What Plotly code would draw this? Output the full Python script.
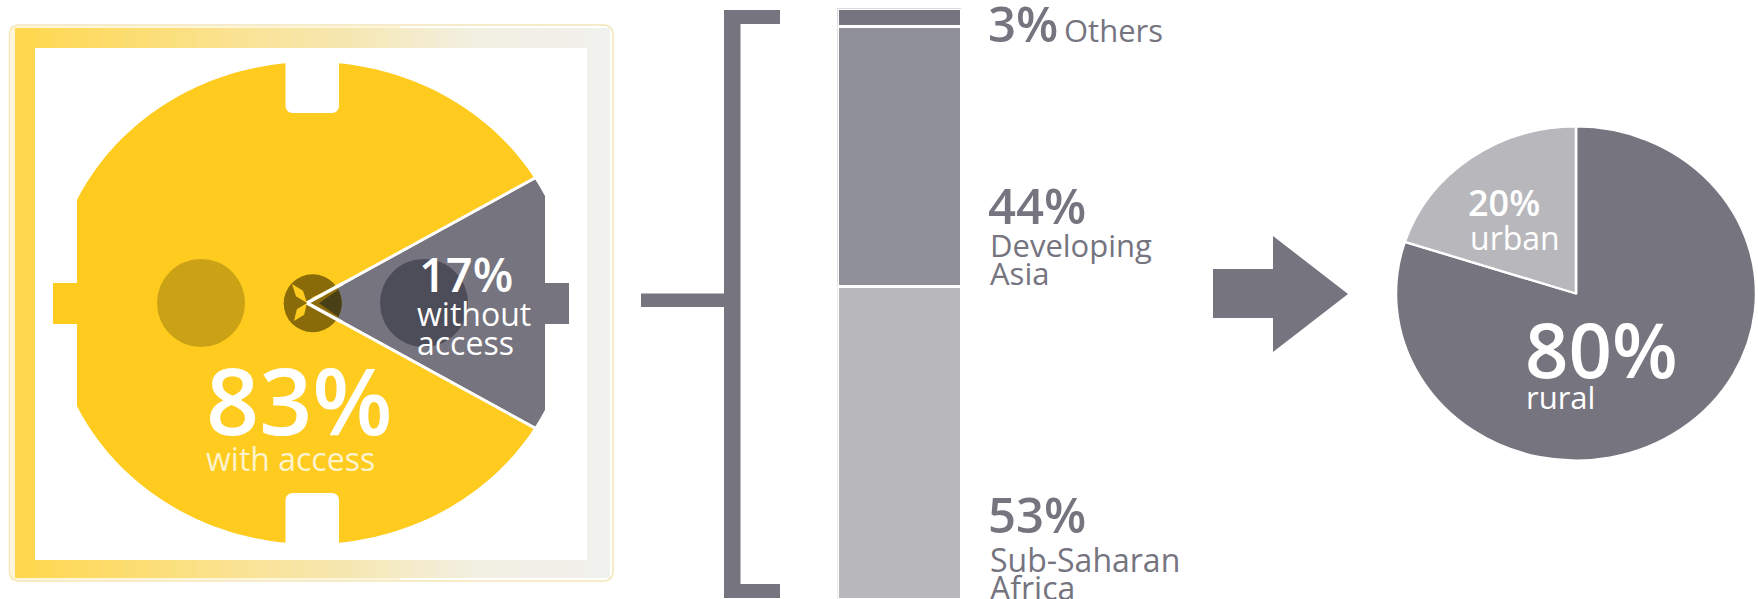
import numpy as np
import plotly.graph_objects as go

# ---- data
access_labels = ["without access", "with access"]
access_values = [17, 83]
region_labels = ["Sub-Saharan Africa", "Developing Asia", "Others"]
region_values = [53, 44, 3]
area_labels = ["rural", "urban"]
area_values = [80, 20]

W, H = 1758, 599
YEL = "#FECB1E"
GRY = "#75747F"
FONT = "Open Sans"
SQUASH = 0.928  # the reference is slightly flattened vertically


def X(p):
    return p / W


def Y(p):
    return 1 - p / H


def P(x, y):
    return f"{X(x):.5f},{Y(y):.5f}"


def path(pts, close=True):
    s = "M" + " L".join(P(a, b) for a, b in pts)
    return s + (" Z" if close else "")


shapes = []


def add_rect(x0, y0, x1, y1, color):
    shapes.append(dict(type="rect", xref="paper", yref="paper", x0=X(x0), x1=X(x1), y0=Y(y0), y1=Y(y1),
                       fillcolor=color, line_width=0, layer="above"))


def add_path(pts, color):
    shapes.append(dict(type="path", xref="paper", yref="paper", path=path(pts), fillcolor=color, line_width=0,
                       layer="above"))


def add_circle(cx, cy, r, color):
    shapes.append(dict(type="circle", xref="paper", yref="paper", x0=X(cx - r), x1=X(cx + r), y0=Y(cy - r),
                       y1=Y(cy + r), fillcolor=color, line_width=0, layer="above"))


def corner(cx_, cy_, r_, a0, a1):
    return [(cx_ + r_ * np.cos(np.radians(t)), cy_ + r_ * np.sin(np.radians(t))) for t in np.linspace(a0, a1, 7)]


# plug outline: flattened ellipse with chords and notches; everything outside is masked white
cx, cy, a, b = 312, 303, 260, 241


def arc(x0, sy0, x1, sy1):
    t0 = np.arctan2(sy0 * np.sqrt(max(1 - ((x0 - cx) / a) ** 2, 0)), (x0 - cx) / a)
    t1 = np.arctan2(sy1 * np.sqrt(max(1 - ((x1 - cx) / a) ** 2, 0)), (x1 - cx) / a)
    ts = np.linspace(t0, t1, 50)
    return [(cx + a * np.cos(t), cy + b * np.sin(t)) for t in ts]


nl, nr, ntop, nbot = 285.5, 339, 113, 493
chl, chr_ = 77, 545
r = 7
outline = []
outline += arc(nr, -1, chr_, -1)
outline += arc(chr_, 1, nr, 1)
outline += corner(nr - r, nbot + r, r, 0, -90) + corner(nl + r, nbot + r, r, -90, -180)
outline += arc(nl, 1, chl, 1)
outline += arc(chl, -1, nl, -1)
outline += corner(nl + r, ntop - r, r, 180, 90) + corner(nr - r, ntop - r, r, 90, 0)
mask = "M" + P(30, 44) + " L" + P(590, 44) + " L" + P(590, 564) + " L" + P(30, 564) + " Z " + path(outline)
shapes.append(dict(type="path", xref="paper", yref="paper", path=mask, fillcolor="white", line_width=0,
                   layer="above", fillrule="evenodd"))

# frame with fading colour
stops = [(15, (255, 216, 79)), (170, (252, 224, 128)), (340, (246, 232, 178)), (470, (243, 240, 226)), (610, (241, 241, 238))]
xs = [s[0] for s in stops]


def frame_col(x):
    c = [np.interp(x, xs, [s[1][i] for s in stops]) for i in range(3)]
    return "rgb(%d,%d,%d)" % tuple(c)


step = 12
for x0 in range(15, 610, step):
    x1 = min(x0 + step + 0.5, 610)
    add_rect(x0, 28, x1, 48, frame_col(x0))
    add_rect(x0, 560, x1, 578, frame_col(x0))
add_rect(15, 28, 35, 578, frame_col(15))
add_rect(587, 28, 610, 578, frame_col(610))
# cream gap between line and band
add_rect(10.5, 26, 15, 580, "#FFF6DA")
add_rect(15, 26, 400, 28, "#FFF6DA")
add_rect(15, 578, 400, 580, "#FFF6DA")
fx0, fy0, fx1, fy1, fr = 9.5, 25, 613, 581, 9
shapes.append(dict(type="path", xref="paper", yref="paper",
                   path=path(corner(fx0 + fr, fy0 + fr, fr, 180, 270) + corner(fx1 - fr, fy0 + fr, fr, 270, 360)
                             + corner(fx1 - fr, fy1 - fr, fr, 0, 90) + corner(fx0 + fr, fy1 - fr, fr, 90, 180)),
                   fillcolor="rgba(0,0,0,0)", line=dict(color="#F5E6B8", width=1.5), layer="above"))

# plug tabs
add_rect(53, 283, 77.5, 324, YEL)
add_rect(544.5, 283, 569, 324, GRY)
# socket holes
add_circle(201, 303, 44, "#CBA216")
add_circle(424, 303, 44, "#4D4D59")
# centre pin
ox, oy, rr = 312.7, 303.3, 29
add_circle(ox, oy, rr, "#8A6B09")
ang = np.arctan(np.tan(np.radians(30.6)) * SQUASH)
apex = (307, 303)
th = np.linspace(-ang * 0.97, ang * 0.97, 20)
add_path([(319, oy)] + [(ox + rr * np.cos(t), oy + rr * np.sin(t)) for t in th], "#4A4018")
for tip, w in [((292, 284), 4.5), ((294, 321), 4.5)]:
    mx, my = (tip[0] + apex[0]) / 2, (tip[1] + apex[1]) / 2
    dx, dy = tip[0] - apex[0], tip[1] - apex[1]
    n = np.hypot(dx, dy)
    add_path([apex, (mx - dy / n * w, my + dx / n * w), tip, (mx + dy / n * w, my - dx / n * w)], YEL)
add_path([(311, 298), (322, 297), (335, 287)], YEL)
for s in (-1, 1):
    end = (apex[0] + 40 * np.cos(ang), apex[1] + s * 40 * np.sin(ang))
    shapes.append(dict(type="line", xref="paper", yref="paper", x0=X(apex[0]), y0=Y(apex[1]), x1=X(end[0]),
                       y1=Y(end[1]), line=dict(color="white", width=3.5), layer="above"))

# bracket
add_rect(724, 10, 740.5, 598, GRY)
add_rect(724, 10, 780, 24, GRY)
add_rect(724, 584, 780, 598, GRY)
add_rect(641, 293.5, 724, 307, GRY)
# arrow
add_path([(1213, 269), (1273, 269), (1273, 236), (1348, 294), (1273, 352), (1273, 318), (1213, 318)], GRY)

fig = go.Figure()
PLUG_CY, PLUG_R = 303, 272
PIE_CY, PIE_R = 293.5, 180
fig.add_trace(go.Pie(labels=access_labels, values=access_values, sort=False, direction="clockwise",
                     rotation=90 - 30.6, textinfo="none", hoverinfo="label+percent", showlegend=False,
                     marker=dict(colors=[GRY, YEL], line=dict(color="white", width=3)),
                     domain=dict(x=[(307 - PLUG_R) / W, (307 + PLUG_R) / W], y=[Y(PLUG_CY + PLUG_R), Y(PLUG_CY - PLUG_R)])))
fig.add_trace(go.Pie(labels=area_labels, values=area_values, sort=False, direction="clockwise", rotation=0,
                     textinfo="none", hoverinfo="label+percent", showlegend=False,
                     marker=dict(colors=[GRY, "#B8B8BC"], line=dict(color="white", width=2.5)),
                     domain=dict(x=[(1576 - PIE_R) / W, (1576 + PIE_R) / W], y=[Y(PIE_CY + PIE_R), Y(PIE_CY - PIE_R)])))
for lab, val, col in zip(region_labels, region_values, ["#B8B8BC", "#8F8F97", GRY]):
    fig.add_trace(go.Bar(x=["share"], y=[val], name=lab, marker=dict(color=col, line=dict(color="white", width=3)),
                         showlegend=False, xaxis="x", yaxis="y"))

notes = [
    ("83%", 204, 399, 93, "white", 600),
    ("with access", 204, 458, 32, "#FFF3CC", 400),
    ("17%", 417, 274, 47, "white", 600),
    ("without", 415, 313, 32, "white", 400),
    ("access", 415, 342, 32, "white", 400),
    ("3%", 986, 23.5, 49, GRY, 600),
    ("Others", 1062, 29.5, 31, GRY, 400),
    ("44%", 986, 205, 49, GRY, 600),
    ("Developing", 988, 245, 31, GRY, 400),
    ("Asia", 988, 273, 31, GRY, 400),
    ("53%", 986, 514, 49, GRY, 600),
    ("Sub-Saharan", 988, 559, 32, GRY, 400),
    ("Africa", 988, 587, 32, GRY, 400),
    ("20%", 1466, 202, 36, "white", 600),
    ("urban", 1468, 238, 32, "white", 400),
    ("80%", 1523, 348, 76, "white", 600),
    ("rural", 1524, 397, 31, "white", 400),
]
annotations = [dict(text=t, x=X(x), y=Y(y), xref="paper", yref="paper", xanchor="left", yanchor="middle",
                    showarrow=False, font=dict(family=FONT, size=s, color=c, weight=w))
               for t, x, y, s, c, w in notes]

fig.update_layout(
    width=W, height=H, margin=dict(l=0, r=0, t=0, b=0), paper_bgcolor="white", plot_bgcolor="white",
    barmode="stack", bargap=0, shapes=shapes, annotations=annotations, showlegend=False,
    xaxis=dict(domain=[837.5 / W, 961.5 / W], visible=False, fixedrange=True),
    yaxis=dict(domain=[0, Y(8.5)], range=[0, 100], visible=False, fixedrange=True),
)
post = f"""
document.body.style.margin='0';document.body.style.overflow='hidden';
var t=document.querySelectorAll('.pielayer .trace');
[{PLUG_CY},{PIE_CY}].forEach(function(c,i){{
  if(t[i]) t[i].setAttribute('transform','translate(0 '+c+') scale(1 {SQUASH}) translate(0 '+(-c)+')');
}});
"""
fig.write_html("out.html", config=dict(displayModeBar=False), post_script=post)
